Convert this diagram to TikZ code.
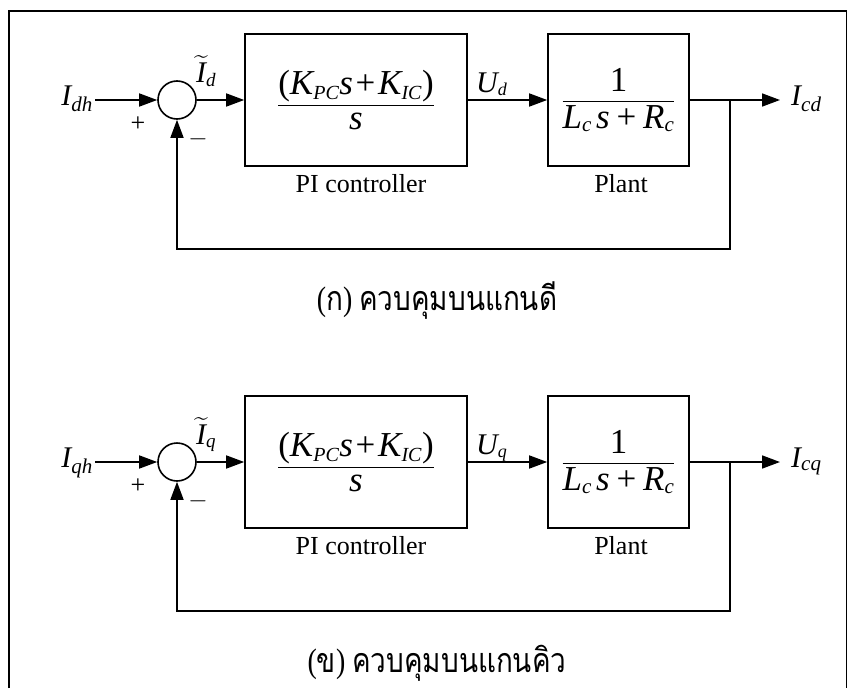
\documentclass[tikz,border=0pt]{standalone}
\usepackage{amsmath}
\usepackage{graphicx}
\usepackage{fontspec}
\setmainfont{Liberation Serif}
\newfontfamily\thaifont[Script=Thai]{Loma}
\usetikzlibrary{arrows.meta}
\newcommand{\mi}[1]{\mbox{\itshape #1}}
\newcommand{\sbx}[2][20]{_{\mbox{\fontsize{#1}{#1}\selectfont\itshape #2}}}
\tikzset{
  ln/.style={line width=1.6pt},
  arr/.style={ln,-{Triangle[length=18pt,width=13pt]}},
  blk/.style={draw,ln,inner sep=0pt},
  sumc/.style={draw,ln,circle,minimum size=38pt,inner sep=0pt},
  lbl/.style={font=\fontsize{30}{32}\selectfont,inner sep=0pt},
  frc/.style={font=\fontsize{35}{38}\selectfont,inner sep=0pt},
  subx/.style={font=\fontsize{26}{30}\selectfont,inner sep=0pt,anchor=base},
  captx/.style={font=\fontsize{34}{38}\selectfont,inner sep=0pt,anchor=base},
}
\begin{document}
\begin{tikzpicture}[x=1pt,y=-1pt]
\useasboundingbox (0,0) rectangle (848,688);
% frame
\draw[ln] (9,688) -- (9,11) -- (846.5,11) -- (846.5,688);
\foreach \k/\dy/\ch/\ci/\co/\ca in {1/0/d/dh/cd/ก,2/362/q/qh/cq/ข}{
  \begin{scope}[yshift=-\dy pt]
  \node[sumc] (s\k) at (177,100) {};
  \node[blk,minimum width=222pt,minimum height=132pt] (pi\k) at (356,100)
    [frc] {$\dfrac{\mbox{(}\mi{K}\sbx{PC}\mi{s}\mkern2mu\mbox{+}\mkern2mu\mi{K}\sbx{IC}\mbox{)}}{\mi{s}}$};
  \node[blk,minimum width=141pt,minimum height=132pt] (pl\k) at (618.5,100)
    [frc] {$\dfrac{\mbox{1}}{\mi{L}\sbx[21]{c}\,\mi{s}\;\mbox{+}\;\mi{R}\sbx[21]{c}}$};
  \node[lbl,anchor=base east] (in\k) at (93,105) {$\mi{I}\sbx[21]{\ci}$};
  \coordinate (a\k) at (95,100);
  \coordinate (b\k) at (730,100);
  \coordinate (o\k) at (780,100);
  \coordinate (f\k) at (730,249);
  \node[lbl,anchor=base west] (out\k) at (791,105) {$\mi{I}\sbx[21]{\co}$};
  \node[lbl,anchor=base west] (e\k) at (196,82) {$\widetilde{\mi{I}}\sbx[19]{\ch}$};
  \node[lbl,anchor=base west] (u\k) at (476,92) {$\mi{U}\sbx[18]{\ch}$};
  \node[subx] (p\k) at (138,131) {+};
  \node[subx] (m\k) at (198,145) {$-$};
  \node[subx] (tp\k) at (361,192) {PI controller};
  \node[subx] (tl\k) at (621,192) {Plant};
  \node[captx] (c\k) at (437,310) {\scalebox{0.82}[1]{(\thaifont \ca\rmfamily) \thaifont ควบคุมบนแกน\ifnum\k=1 ดี\else คิว\fi}};
  \draw[arr] (a\k) -- (s\k.west);
  \draw[arr] (s\k.east) -- (pi\k.west);
  \draw[arr] (pi\k.east) -- (pl\k.west);
  \draw[arr] (pl\k.east) -- (o\k);
  \draw[arr] (b\k) -- (f\k) -| (s\k.south);
  \end{scope}
}
\end{tikzpicture}
\end{document}
